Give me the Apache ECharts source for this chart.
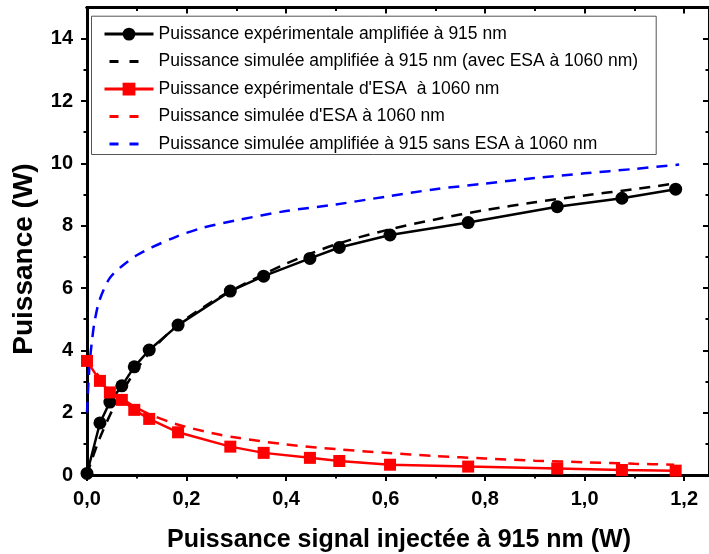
<!DOCTYPE html>
<html>
<head>
<meta charset="utf-8">
<script src="https://cdn.jsdelivr.net/npm/echarts@6/dist/echarts.min.js"></script>
<style>html,body{margin:0;padding:0;background:#fff}#c{width:709px;height:554px}</style>
</head>
<body>
<div id="c"></div>
<script>
// ---- data ----
const seriesNames = [
  "Puissance expérimentale amplifiée à 915 nm",
  "Puissance simulée amplifiée à 915 nm (avec ESA à 1060 nm)",
  "Puissance expérimentale d'ESA  à 1060 nm",
  "Puissance simulée d'ESA à 1060 nm",
  "Puissance simulée amplifiée à 915 sans ESA à 1060 nm"
];
const xExp = [0.0, 0.026, 0.046, 0.07, 0.095, 0.125, 0.183, 0.288, 0.355, 0.448, 0.507, 0.609, 0.766, 0.945, 1.075, 1.183];
const yAmpExp = [0.05, 1.67, 2.34, 2.86, 3.47, 4.01, 4.81, 5.9, 6.38, 6.95, 7.3, 7.7, 8.1, 8.61, 8.88, 9.17];
const yEsaExp = [3.66, 3.02, 2.65, 2.41, 2.09, 1.80, 1.37, 0.91, 0.71, 0.55, 0.45, 0.33, 0.27, 0.21, 0.16, 0.14];

const xSimAmp = [0, 0.01, 0.02, 0.03, 0.05, 0.07, 0.1, 0.13, 0.18, 0.25, 0.3, 0.4, 0.5, 0.6, 0.7, 0.8, 0.9, 1.0, 1.1, 1.18];
const ySimAmp = [0, 0.5, 0.95, 1.35, 2.05, 2.65, 3.4, 4.0, 4.78, 5.55, 6.0, 6.78, 7.4, 7.85, 8.2, 8.5, 8.75, 8.97, 9.17, 9.35];

const xSimEsa = [0, 0.02, 0.05, 0.08, 0.1, 0.13, 0.18, 0.25, 0.3, 0.4, 0.5, 0.6, 0.7, 0.8, 0.9, 1.0, 1.1, 1.18];
const ySimEsa = [3.8, 3.25, 2.7, 2.35, 2.15, 1.92, 1.63, 1.35, 1.2, 0.98, 0.83, 0.71, 0.61, 0.53, 0.46, 0.41, 0.36, 0.33];

const xSimNoEsa = [0, 0.003, 0.006, 0.01, 0.015, 0.025, 0.045, 0.07, 0.1, 0.13, 0.18, 0.23, 0.3, 0.4, 0.5, 0.6, 0.7, 0.8, 0.9, 1.0, 1.1, 1.19];
const ySimNoEsa = [2.0, 3.0, 3.7, 4.3, 4.9, 5.6, 6.3, 6.7, 7.05, 7.3, 7.65, 7.92, 8.17, 8.47, 8.68, 8.93, 9.17, 9.35, 9.53, 9.68, 9.82, 9.96];

const xMajorTicks = [0, 0.2, 0.4, 0.6, 0.8, 1.0, 1.2];
const xMinorTicks = [0.1, 0.3, 0.5, 0.7, 0.9, 1.1];
const yMajorTicks = [0, 2, 4, 6, 8, 10, 12, 14];
const yMinorTicks = [1, 3, 5, 7, 9, 11, 13];
const xTitle = "Puissance signal injectée à 915 nm (W)";
const yTitle = "Puissance (W)";

// ---- chart ----
const zip = (xs, ys) => xs.map((x, i) => [x, ys[i]]);
const FONT = "'Liberation Sans', Arial, sans-serif";
const chart = echarts.init(document.getElementById('c'), null, {renderer: 'canvas'});

function xAx(pos, ticks, len, inside, labels) {
  return {
    type: 'value', position: pos, min: 0, max: 1.25, interval: 0.2,
    axisLine: {show: true, onZero: false, lineStyle: {color: '#000', width: 3}},
    axisTick: {show: true, inside: inside, length: len, customValues: ticks, lineStyle: {color: '#000', width: 2}},
    axisLabel: labels ? {show: true, customValues: ticks, margin: 14, color: '#000', fontFamily: FONT, fontWeight: 'bold', fontSize: 20,
      formatter: v => v.toFixed(1).replace('.', ',')} : {show: false},
    splitLine: {show: false}, minorTick: {show: false}
  };
}
function yAx(pos, ticks, len, inside, labels) {
  return {
    type: 'value', position: pos, min: 0, max: 15, interval: 2,
    axisLine: {show: true, onZero: false, lineStyle: {color: '#000', width: 3}},
    axisTick: {show: true, inside: inside, length: len, customValues: ticks, lineStyle: {color: '#000', width: 2}},
    axisLabel: labels ? {show: true, customValues: ticks, margin: 14, color: '#000', fontFamily: FONT, fontWeight: 'bold', fontSize: 20} : {show: false},
    splitLine: {show: false}, minorTick: {show: false}
  };
}

const dash = [11, 8];
const legendDash = [0, 5, 9, 11, 9, 30];
chart.setOption({
  animation: false,
  backgroundColor: '#fff',
  grid: {left: 87, right: -2, top: 7.5, bottom: 79},
  xAxis: [
    xAx('bottom', xMajorTicks, 6, false, true),
    xAx('bottom', xMinorTicks, 3.5, false, false),
    xAx('top', xMajorTicks, 6, true, false),
    xAx('top', xMinorTicks, 3.5, true, false)
  ],
  yAxis: [
    yAx('left', yMajorTicks, 6, false, true),
    yAx('left', yMinorTicks, 3.5, false, false),
    yAx('right', yMajorTicks, 6, true, false),
    yAx('right', yMinorTicks, 3.5, true, false)
  ],
  legend: {
    orient: 'vertical', left: 91, top: 16.5,
    padding: [7.6, 0, 0, 12],
    itemWidth: 49, itemHeight: 16, itemGap: 7.5,
    textStyle: {fontFamily: FONT, fontSize: 17.5, color: '#000', lineHeight: 20},
    data: [
      {name: seriesNames[0], lineStyle: {width: 3}},
      {name: seriesNames[1], itemStyle: {opacity: 0}, lineStyle: {type: legendDash, width: 3}},
      {name: seriesNames[2], lineStyle: {width: 3}},
      {name: seriesNames[3], itemStyle: {opacity: 0}, lineStyle: {type: legendDash, width: 3}},
      {name: seriesNames[4], itemStyle: {opacity: 0}, lineStyle: {type: legendDash, width: 3}}
    ],
    z: 5
  },
  graphic: [
    {type: 'rect', left: 91, top: 15.7, z: 4, shape: {width: 564.7, height: 138.3},
     style: {fill: '#fff', stroke: '#555', lineWidth: 1}},
    {type: 'text', z: 5, x: 399, y: 540,
     style: {text: xTitle, font: "bold 25px " + FONT, fill: '#000', align: 'center', verticalAlign: 'middle'}},
    {type: 'text', z: 5, rotation: Math.PI / 2, x: 24, y: 259,
     style: {text: yTitle, font: "bold 28px " + FONT, fill: '#000', align: 'center', verticalAlign: 'middle'}}
  ],
  series: [
    {name: seriesNames[4], type: 'line', data: zip(xSimNoEsa, ySimNoEsa), symbol: 'none', smooth: 0.3,
     lineStyle: {color: '#0000ff', width: 2.5, type: dash}, itemStyle: {color: '#0000ff'}, z: 2},
    {name: seriesNames[1], type: 'line', data: zip(xSimAmp, ySimAmp), symbol: 'none', smooth: 0.3,
     lineStyle: {color: '#000', width: 2.5, type: dash}, itemStyle: {color: '#000'}, z: 2},
    {name: seriesNames[3], type: 'line', data: zip(xSimEsa, ySimEsa), symbol: 'none', smooth: 0.3,
     lineStyle: {color: '#ff0000', width: 2.5, type: dash}, itemStyle: {color: '#ff0000'}, z: 2},
    {name: seriesNames[0], type: 'line', data: zip(xExp, yAmpExp), symbol: 'circle', symbolSize: 13,
     lineStyle: {color: '#000', width: 2.5}, itemStyle: {color: '#000'}, z: 3},
    {name: seriesNames[2], type: 'line', data: zip(xExp, yEsaExp), symbol: 'rect', symbolSize: 12,
     lineStyle: {color: '#ff0000', width: 2.5}, itemStyle: {color: '#ff0000'}, z: 3}
  ]
});
</script>
</body>
</html>
